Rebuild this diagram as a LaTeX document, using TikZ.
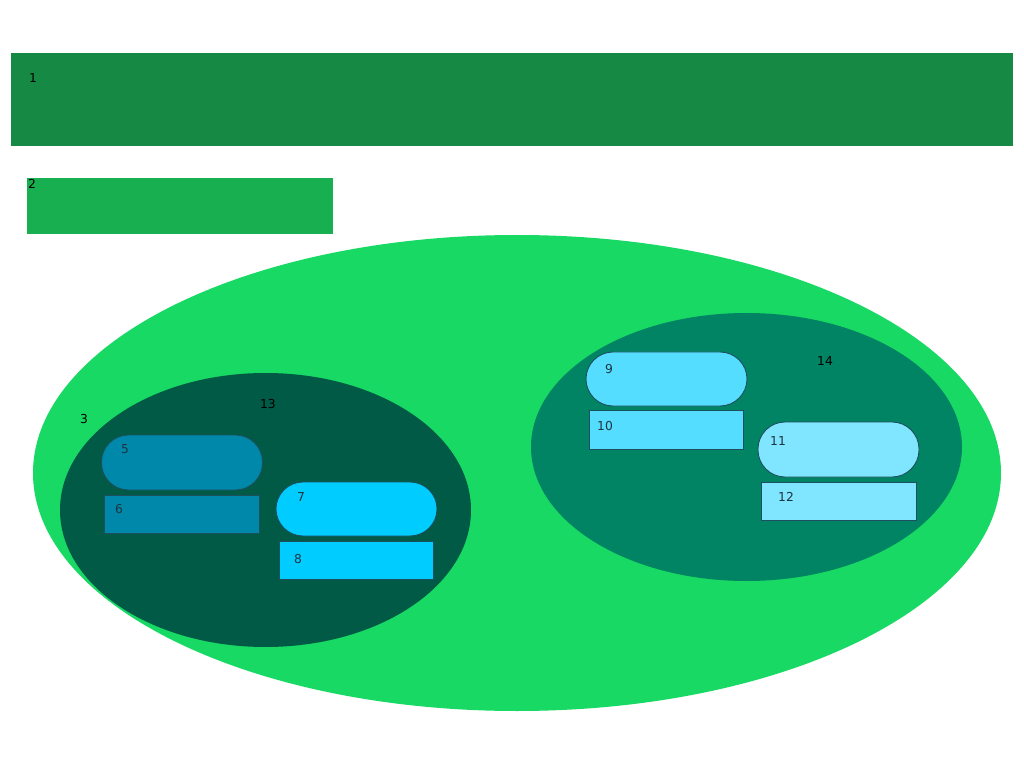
\documentclass[tikz,border=0pt]{standalone}
\usepackage{fontspec}
\setmainfont{DejaVu Sans}
\usepackage{xcolor}
\usetikzlibrary{positioning,shapes.geometric}

\definecolor{bandgreen}{HTML}{168A45}
\definecolor{boxgreen}{HTML}{18AF50}
\definecolor{outergreen}{HTML}{17D964}
\definecolor{leftpool}{HTML}{005A45}
\definecolor{rightpool}{HTML}{008463}
\definecolor{tealA}{HTML}{0088AA}
\definecolor{cyanA}{HTML}{00CCFF}
\definecolor{cyanB}{HTML}{55DDFF}
\definecolor{cyanC}{HTML}{80E5FF}
\definecolor{edgeblue}{HTML}{1D4F5E}
\definecolor{inktext}{HTML}{1E3540}

\begin{document}
\begin{tikzpicture}[
  font=\fontsize{7pt}{8pt}\selectfont,
  area/.style={inner sep=0pt, outer sep=0pt},
  pool/.style={ellipse, inner sep=0pt},
  pill/.style={draw=edgeblue, line width=0.5pt, rounded corners=0.54cm, minimum width=3.22cm, minimum height=1.08cm, inner sep=0pt},
  slab/.style={draw=edgeblue, line width=0.5pt, minimum width=3.08cm, minimum height=0.76cm, inner sep=0pt},
  tag/.style={inner sep=0pt, text=black},
  innertag/.style={inner sep=0pt, text=inktext}
]
  \useasboundingbox (0,0) rectangle (20.48,-15.36);

  % top bands
  \node[area, fill=bandgreen, minimum width=20.04cm, minimum height=1.86cm] at (10.24,-1.99) (band) {};
  \node[area, fill=boxgreen, minimum width=6.12cm, minimum height=1.12cm] at (3.60,-4.12) (box) {};

  % pools
  \node[pool, fill=outergreen, minimum width=19.36cm, minimum height=9.52cm] at (10.34,-9.46) (outer) {};
  \node[pool, fill=leftpool, minimum width=8.22cm, minimum height=5.48cm] at (5.31,-10.20) (left) {};
  \node[pool, fill=rightpool, minimum width=8.62cm, minimum height=5.36cm] at (14.93,-8.94) (right) {};

  % items
  \node[pill, fill=tealA, minimum height=1.10cm] at (3.64,-9.25) (five) {};
  \node[slab, fill=tealA, minimum width=3.10cm, below=0.1cm of five] (six) {};
  \node[pill, fill=cyanA] at (7.13,-10.18) (seven) {};
  \node[slab, fill=cyanA, below=0.1cm of seven] (eight) {};
  \node[pill, fill=cyanB] at (13.33,-7.58) (nine) {};
  \node[slab, fill=cyanB, minimum height=0.78cm, below=0.08cm of nine] (ten) {};
  \node[pill, fill=cyanC, minimum height=1.10cm] at (16.77,-8.99) (eleven) {};
  \node[slab, fill=cyanC, minimum width=3.10cm, below=0.1cm of eleven] (twelve) {};

  % numbers
  \node[tag] at (0.66,-1.56) (tone) {1};
  \node[tag] at (0.64,-3.68) (ttwo) {2};
  \node[tag] at (1.68,-8.38) (tthree) {3};
  \node[tag] at (5.36,-8.08) (tthirteen) {13};
  \node[tag] at (16.50,-7.22) (tfourteen) {14};
  \node[innertag] at (2.50,-8.98) (tfive) {5};
  \node[innertag] at (2.38,-10.18) (tsix) {6};
  \node[innertag] at (6.02,-9.94) (tseven) {7};
  \node[innertag] at (5.96,-11.18) (teight) {8};
  \node[innertag] at (12.18,-7.38) (tnine) {9};
  \node[innertag] at (12.10,-8.52) (tten) {10};
  \node[innertag] at (15.56,-8.82) (televen) {11};
  \node[innertag] at (15.72,-9.94) (ttwelve) {12};
\end{tikzpicture}
\end{document}
